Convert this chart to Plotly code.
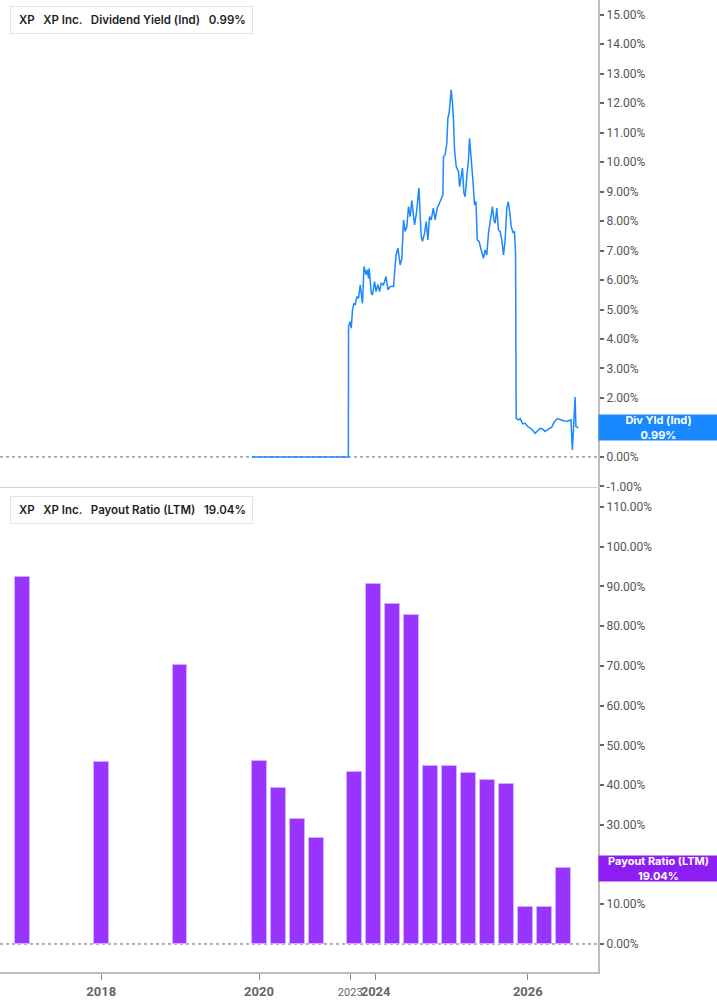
"""XP Inc. - Dividend Yield (Ind) e Payout Ratio (LTM)."""
import plotly.graph_objects as go

# --- Dividend yield (%)
DY_DATES = [
    "2022-05-26", "2023-09-01", "2023-09-02", "2023-09-09", "2023-09-15", "2023-09-21",
    "2023-09-28", "2023-10-04", "2023-10-12", "2023-10-20", "2023-10-28", "2023-11-08",
    "2023-11-15", "2023-11-25", "2023-12-01", "2023-12-07", "2023-12-10", "2023-12-20",
    "2023-12-26", "2024-01-05", "2024-01-12", "2024-01-21", "2024-01-29", "2024-02-06",
    "2024-02-17", "2024-02-29", "2024-03-09", "2024-03-20", "2024-04-05", "2024-04-17",
    "2024-04-26", "2024-05-07", "2024-05-15", "2024-05-23", "2024-05-31", "2024-06-08",
    "2024-06-16", "2024-06-24", "2024-07-02", "2024-07-15", "2024-07-24", "2024-08-05",
    "2024-08-16", "2024-08-22", "2024-09-01", "2024-09-09", "2024-09-17", "2024-09-25",
    "2024-10-03", "2024-10-13", "2024-10-22", "2024-11-01", "2024-11-10", "2024-11-20",
    "2024-11-28", "2024-12-01", "2024-12-09", "2024-12-17", "2024-12-22", "2024-12-28",
    "2025-01-02", "2025-01-07", "2025-01-13", "2025-01-18", "2025-01-23", "2025-01-31",
    "2025-02-11", "2025-02-16", "2025-02-24", "2025-03-02", "2025-03-09", "2025-03-15",
    "2025-03-23", "2025-03-31", "2025-04-05", "2025-04-13", "2025-04-21", "2025-04-29",
    "2025-05-06", "2025-05-12", "2025-05-21", "2025-05-31", "2025-06-11", "2025-06-19",
    "2025-06-27", "2025-07-05", "2025-07-13", "2025-07-24", "2025-07-31", "2025-08-06",
    "2025-08-14", "2025-08-22", "2025-08-30", "2025-09-07", "2025-09-15", "2025-09-23",
    "2025-10-01", "2025-10-08", "2025-10-16", "2025-10-22", "2025-11-01", "2025-11-07",
    "2025-11-12", "2025-11-15", "2025-11-26", "2025-12-04", "2025-12-17", "2025-12-28",
    "2026-01-13", "2026-01-29", "2026-02-14", "2026-02-25", "2026-03-10", "2026-03-23",
    "2026-04-03", "2026-04-19", "2026-05-05", "2026-05-16", "2026-06-01", "2026-06-18",
    "2026-07-03", "2026-07-19", "2026-08-05", "2026-08-12", "2026-08-17", "2026-08-25",
    "2026-08-29", "2026-09-10",
]
DY_VALUES = [
    0.0, 0.0, 4.42, 4.59, 4.37, 4.99,
    5.21, 5.16, 5.44, 5.38, 5.84, 5.21,
    6.46, 6.18, 6.35, 6.06, 6.40, 5.55,
    5.50, 5.95, 5.61, 5.84, 5.61, 5.89,
    5.84, 6.12, 5.67, 5.78, 5.78, 6.85,
    7.08, 6.51, 6.74, 8.04, 7.65, 7.81,
    8.49, 8.15, 8.70, 7.87, 8.27, 9.12,
    7.48, 7.31, 7.59, 7.98, 7.36, 8.15,
    8.04, 8.44, 8.04, 8.45, 8.58, 8.75,
    8.89, 10.19, 10.25, 10.64, 11.49, 11.66,
    12.00, 12.45, 12.00, 11.44, 10.42, 9.85,
    9.68, 9.17, 9.51, 9.80, 8.95, 8.83,
    9.51, 10.08, 10.81, 10.19, 9.40, 8.55,
    8.66, 7.36, 7.31, 7.02, 6.74, 7.02,
    6.85, 7.59, 7.93, 8.49, 8.04, 7.93,
    8.44, 7.70, 7.65, 7.36, 6.85, 7.36,
    8.44, 8.66, 8.27, 7.82, 7.59, 7.65,
    6.91, 1.31, 1.26, 1.30, 1.12, 1.14,
    1.01, 0.94, 0.80, 0.89, 0.97, 0.94,
    0.86, 0.94, 1.01, 1.18, 1.30, 1.26,
    1.22, 1.21, 1.26, 0.24, 1.14, 2.03,
    1.03, 0.99,
]

# --- Payout ratio LTM (%)
PAYOUT_DATES = [
    "2019-05-20", "2020-06-01", "2021-06-15", "2022-06-30", "2022-09-30", "2022-12-31",
    "2023-03-31", "2023-09-30", "2023-12-31", "2024-03-31", "2024-06-30", "2024-09-30",
    "2024-12-31", "2025-03-31", "2025-06-30", "2025-09-30", "2025-12-31", "2026-03-31",
    "2026-06-30",
]
PAYOUT_VALUES = [
    92.3, 45.8, 70.2, 46.1, 39.3, 31.5,
    26.7, 43.2, 90.6, 85.5, 82.7, 44.7,
    44.9, 43.0, 41.2, 40.2, 9.3, 9.2,
    19.04,
]

X_TICKVALS = ["2020-06-01", "2022-06-29", "2023-09-10", "2024-01-10", "2026-01-10"]
X_TICKTEXT = ["<b>2018</b>", "<b>2020</b>", "<span style='font-size:11px'>2023</span>",
              "<b>2024</b>", "<b>2026</b>"]
DY_TICKS = list(range(-1, 16))
PAYOUT_TICKS = list(range(0, 111, 10))

X_RANGE = ["2019-02-01", "2026-12-13"]
BLUE = "#1a88ff"
PURPLE = "#9933ff"
PURPLE_LBL = "#8c1ef2"
AXIS_GRAY = "#bdbdbd"
TICK_FONT = dict(family="Roboto", size=12, color="#555555")

fig = go.Figure()
fig.add_trace(
    go.Scatter(
        x=DY_DATES, y=DY_VALUES, mode="lines", xaxis="x", yaxis="y",
        line=dict(color=BLUE, width=1.5), name="Dividend Yield (Ind)",
    )
)
fig.add_trace(
    go.Bar(
        x=PAYOUT_DATES, y=PAYOUT_VALUES, xaxis="x2", yaxis="y2",
        width=70.5 * 86400000,
        marker=dict(color=PURPLE, line=dict(color="#d2b0ff", width=1)),
        name="Payout Ratio (LTM)",
    )
)

# linhas pontilhadas no zero
for yref in ("y", "y2"):
    fig.add_shape(type="line", xref="paper", yref=yref, x0=0, x1=1, y0=0, y1=0,
                  line=dict(color="#666666", width=1, dash="dot"), layer="below")

# caixas de legenda
PW, PH = 598.0, 972.0
for top_px, txt, color in (
    (6, "\u2009XP \u2002XP Inc. \u2002Dividend Yield (Ind) \u20020.99%", BLUE),
    (496, "\u2009XP \u2002XP Inc. \u2002Payout Ratio (LTM) \u200219.04%", "#8a12f5"),
):
    fig.add_annotation(
        xref="paper", yref="paper", x=10 / PW, y=1 - top_px / PH,
        xanchor="left", yanchor="top", showarrow=False, align="left",
        text=txt, font=dict(family="Inter", size=11.5, color="#1f1f1f", weight=600),
        bgcolor="white", bordercolor="#e4e4e4", borderwidth=1, borderpad=6,
    )
    fig.add_shape(type="rect", xref="paper", yref="paper",
                  x0=10 / PW, x1=13.5 / PW, y0=1 - (top_px + 25) / PH, y1=1 - (top_px + 2) / PH,
                  fillcolor=color, line=dict(width=0))

# rótulos de último valor no eixo
fig.add_annotation(
    xref="paper", yref="y", x=1.0, y=DY_VALUES[-1], xanchor="left", yanchor="middle",
    showarrow=False, text="<b>Div Yld (Ind)<br>0.99%</b>", width=117, height=23,
    font=dict(family="Inter", size=11, color="white"), bgcolor=BLUE, borderpad=1,
)
fig.add_annotation(
    xref="paper", yref="y2", x=1.0, y=PAYOUT_VALUES[-1], xanchor="left", yanchor="middle",
    showarrow=False, text="<b>Payout Ratio (LTM)<br>19.04%</b>", width=117, height=23,
    font=dict(family="Inter", size=11, color="white"), bgcolor=PURPLE_LBL, borderpad=1,
)

fig.update_layout(
    width=717, height=1005,
    margin=dict(l=0, r=119, t=0, b=33),
    paper_bgcolor="white", plot_bgcolor="white",
    showlegend=False, bargap=0,
    xaxis=dict(
        domain=[0, 1], anchor="y", type="date", range=X_RANGE,
        showgrid=False, zeroline=False, showticklabels=False,
        showline=True, linecolor="#d0d0d0", linewidth=1, ticks="",
    ),
    yaxis=dict(
        domain=[0.49897, 1], anchor="x", side="right", range=[-1.02, 15.5],
        tickvals=DY_TICKS, ticktext=[f"{v:.2f}%" for v in DY_TICKS],
        showgrid=False, zeroline=False, showline=True, linecolor=AXIS_GRAY, linewidth=2,
        ticks="outside", ticklen=4, tickwidth=2, tickcolor="#666666", tickfont=TICK_FONT,
    ),
    xaxis2=dict(
        domain=[0, 1], anchor="y2", type="date", range=X_RANGE,
        tickvals=X_TICKVALS, ticktext=X_TICKTEXT, tickangle=0,
        tickfont=dict(family="Roboto", size=13, color="#666666"),
        showgrid=False, zeroline=False, showline=True, linecolor=AXIS_GRAY, linewidth=2,
        ticks="outside", ticklen=6, tickwidth=1, tickcolor="#888888",
    ),
    yaxis2=dict(
        domain=[0, 0.49794], anchor="x2", side="right", range=[-7.05, 114.78],
        tickvals=PAYOUT_TICKS, ticktext=[f"{v:.2f}%" for v in PAYOUT_TICKS],
        showgrid=False, zeroline=False, showline=True, linecolor=AXIS_GRAY, linewidth=2,
        ticks="outside", ticklen=4, tickwidth=2, tickcolor="#666666", tickfont=TICK_FONT,
    ),
)

fig.write_html("out.html", config={"displayModeBar": False},
               post_script="document.body.style.margin='0';")
